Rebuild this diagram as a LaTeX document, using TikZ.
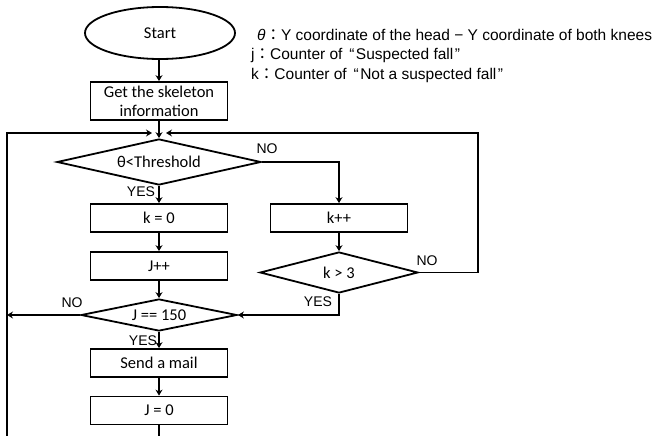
\documentclass[tikz,border=0pt]{standalone}
\usepackage{fontspec}
\setmainfont{Carlito}
\newfontfamily\lblfont{Liberation Sans}
\newfontfamily\cjkfont{Noto Sans CJK JP}
\usetikzlibrary{shapes.geometric,arrows.meta}
% full-width colon and spaced quotation marks for the legend
\newcommand\fwcolon{{\cjkfont ：}}
\newcommand\openq{\hspace{2.5pt}“\hspace{1.5pt}}
\newcommand\closeq{\hspace{1.5pt}”}

\begin{document}
\begin{tikzpicture}[x=1pt,y=-1pt,
  flow/.style={line width=1.8pt},
  arr/.style={flow,-{Stealth[length=6pt,width=7pt,inset=2pt]}},
  procbox/.style={draw,line width=1.8pt,minimum width=137pt,minimum height=28pt,
    inner sep=0pt,font=\fontsize{16.5}{19}\selectfont,align=center},
  startshape/.style={draw,ellipse,line width=1.8pt,minimum width=150pt,
    minimum height=52pt,inner sep=0pt,font=\fontsize{16.5}{19}\selectfont},
  decision/.style={draw,diamond,line width=1.8pt,inner sep=0pt,
    font=\fontsize{16.5}{19}\selectfont},
  answer/.style={font=\lblfont\fontsize{14}{16}\selectfont,inner sep=0pt},
  legend/.style={anchor=west,inner sep=0pt,font=\lblfont\fontsize{15.5}{17}\selectfont}]
\useasboundingbox (0,0) rectangle (653,436);

% main column
\node[startshape] (start) at (160,33) {Start};
\node[procbox,minimum height=38pt] (get) at (159,101) {Get the skeleton\\information};
\node[decision,minimum width=204pt,minimum height=46pt,aspect=4.4] (d1) at (159,162) {θ<Threshold};
\node[procbox] (k0) at (159,218) {k = 0};
\node[procbox] (jpp) at (159,266) {J++};
\node[decision,minimum width=156pt,minimum height=32pt,aspect=4.9] (d2) at (159,315) {J == 150};
\node[procbox] (mail) at (159,363) {Send a mail};
\node[procbox] (j0) at (159,410.5) {J = 0};

% right column
\node[procbox] (kpp) at (339,218) {k++};
\node[decision,minimum width=158pt,minimum height=41pt,aspect=3.85] (d3) at (339,272.5) {k > 3};

% legend
\node[legend] (leg1) at (257,35) {\textit{θ}\fwcolon Y coordinate of the head − Y coordinate of both knees};
\node[legend] (leg2) at (251,55) {j\fwcolon Counter of \openq Suspected fall\closeq};
\node[legend] (leg3) at (251,75) {k\fwcolon Counter of \openq Not a suspected fall\closeq};

% loop coordinates
\coordinate (jl) at (152,133);
\coordinate (jr) at (166,133);
\coordinate (ltop) at (7,133);
\coordinate (lbot) at (7,436);
\coordinate (lout) at (7,315);
\coordinate (rtop) at (478,133);
\coordinate (rmid) at (478,272.5);
\coordinate (jbot) at (159,436);

% connectors
\draw[arr] (start.south -| get.north) -- (get);
\draw[arr] (get) -- (d1);
\draw[arr] (d1) -- (k0);
\draw[arr] (d1.east) -| (kpp.north);
\draw[arr] (k0) -- (jpp);
\draw[arr] (jpp) -- (d2);
\draw[arr] (d2.west) -- (lout);
\draw[arr] (d2) -- (mail);
\draw[arr] (mail) -- (j0);
\draw[flow] (j0) -- (jbot);
\draw[arr] (lbot) -- (ltop) -- (jl);
\draw[arr] (kpp) -- (d3);
\draw[arr] (d3.south) |- (d2.east);
\draw[arr] (d3.east) -- (rmid) -- (rtop) -- (jr);

% branch labels
\node[answer] (no1) at (267,149) {NO};
\node[answer] (yes1) at (141,192) {YES};
\node[answer] (no2) at (72,303) {NO};
\node[answer] (yes2) at (143,341) {YES};
\node[answer] (no3) at (427,261) {NO};
\node[answer] (yes3) at (318,302) {YES};
\end{tikzpicture}
\end{document}
